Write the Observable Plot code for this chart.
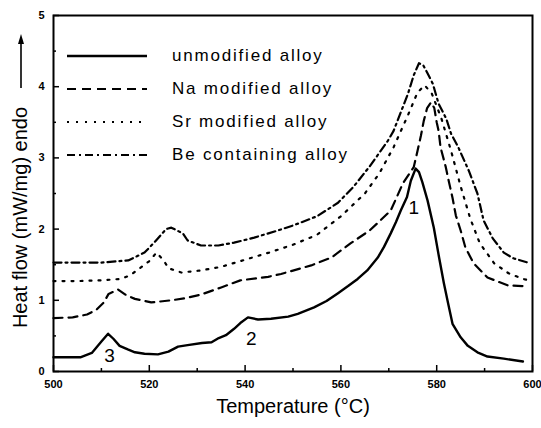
<!DOCTYPE html>
<html><head><meta charset="utf-8">
<script src="https://cdn.jsdelivr.net/npm/d3@7"></script>
<script src="https://cdn.jsdelivr.net/npm/@observablehq/plot@0.6"></script>
<style>
body{margin:0;background:#fff;}
#wrap{position:relative;width:541px;height:428px;font-family:"Liberation Sans",Arial,sans-serif;color:#000;}
#wrap svg{display:block;}
.leg{position:absolute;left:67px;display:flex;align-items:center;font-size:17px;letter-spacing:1.8px;white-space:nowrap;}
</style></head><body><div id="wrap"></div>
<script>
// ---- data ----
const seriesNames = ["unmodified alloy", "Na modified alloy", "Sr modified alloy", "Be containing alloy"];

const unmodT = [500, 505.6, 508, 510, 511.4, 512.5, 513.8, 515.5, 517, 519, 521.8, 524, 526, 528, 531, 533, 534.5, 536, 537.7, 539, 540.6, 542.7, 545.4, 549, 551, 554.4, 557, 559.4, 561.5, 563.5, 565.5, 567.7, 569, 570.4, 571.5, 572.5, 573.8, 574.6, 575.6, 576.3, 577, 578.1, 579.4, 580.5, 581.5, 582.4, 583.3, 585, 586.5, 588.5, 590.6, 594, 598];
const unmodV = [0.2, 0.2, 0.26, 0.42, 0.53, 0.46, 0.36, 0.31, 0.27, 0.25, 0.24, 0.28, 0.35, 0.37, 0.4, 0.41, 0.47, 0.51, 0.6, 0.68, 0.76, 0.73, 0.74, 0.77, 0.81, 0.9, 0.99, 1.1, 1.2, 1.3, 1.42, 1.6, 1.75, 1.94, 2.1, 2.26, 2.45, 2.68, 2.85, 2.8, 2.66, 2.4, 2.02, 1.6, 1.24, 0.95, 0.67, 0.48, 0.36, 0.27, 0.21, 0.18, 0.14];

const naT = [500, 504, 507, 509, 510.5, 511.5, 513.5, 515, 517, 520.4, 524.6, 527.5, 530.8, 535, 539, 544.8, 547.5, 553.8, 558, 562, 566, 570.4, 573, 575.2, 576, 576.7, 577.3, 578, 578.8, 579.5, 580, 580.4, 580.8, 581.9, 582.5, 583.3, 584, 585, 586, 587.7, 590.6, 594.8, 598];
const naV = [0.75, 0.76, 0.8, 0.87, 0.97, 1.09, 1.15, 1.08, 1.02, 0.97, 1.0, 1.03, 1.08, 1.18, 1.28, 1.33, 1.37, 1.49, 1.6, 1.8, 1.98, 2.26, 2.65, 2.87, 3.1, 3.31, 3.52, 3.7, 3.78, 3.7, 3.5, 3.38, 3.15, 2.87, 2.68, 2.44, 2.19, 1.98, 1.74, 1.52, 1.32, 1.21, 1.2];

const srT = [500, 505, 510, 514, 516, 518, 520, 521.5, 523, 524, 526.7, 530.8, 535, 540, 545, 550, 555, 560, 565, 568, 571, 574, 576, 577.5, 579, 581, 583, 585, 587, 589, 592, 595, 598, 600];
const srV = [1.27, 1.27, 1.28, 1.3, 1.35, 1.45, 1.55, 1.67, 1.56, 1.45, 1.39, 1.42, 1.47, 1.57, 1.67, 1.78, 1.92, 2.18, 2.5, 2.78, 3.15, 3.6, 3.92, 4.02, 3.9, 3.55, 3.1, 2.6, 2.15, 1.8, 1.52, 1.38, 1.3, 1.27];

const beT = [500, 505, 510, 515.6, 519, 521, 523.5, 524.6, 527, 528, 530.8, 534.4, 537.7, 541.9, 546.8, 550, 555, 559.4, 562.7, 566, 569.8, 571, 572.5, 574, 575.2, 576.3, 577.2, 578, 579.2, 580.4, 582, 583, 584.5, 586.7, 588.5, 589.8, 591.7, 594, 596, 599];
const beV = [1.53, 1.53, 1.53, 1.56, 1.67, 1.81, 2.0, 2.02, 1.94, 1.84, 1.77, 1.77, 1.81, 1.88, 1.98, 2.05, 2.18, 2.37, 2.6, 2.88, 3.24, 3.38, 3.64, 3.9, 4.16, 4.33, 4.3, 4.2, 4.04, 3.76, 3.55, 3.34, 3.15, 2.82, 2.5, 2.12, 1.87, 1.67, 1.59, 1.53];

const xMajor = [500, 520, 540, 560, 580, 600];
const xMinor = [510, 530, 550, 570, 590];
const yMajor = [0, 1, 2, 3, 4, 5];
const yMinor = [0.5, 1.5, 2.5, 3.5, 4.5];

const peakLabels = ["1", "2", "3"];
const peakT = [575.2, 541.3, 511.7];
const peakV = [2.3, 0.46, 0.22];

const xLabel = "Temperature (°C)";
const yLabel = "Heat flow (mW/mg) endo";

// ---- build ----
const mk = (T, V) => T.map((t, i) => ({T: t, v: V[i]}));
const unmod = mk(unmodT, unmodV), na = mk(naT, naV), sr = mk(srT, srV), be = mk(beT, beV);
const peaks = peakLabels.map((l, i) => ({l, T: peakT[i], v: peakV[i]}));

const styles = [
  {strokeWidth: 2.4},
  {strokeWidth: 2.2, strokeDasharray: "9,6"},
  {strokeWidth: 2.2, strokeDasharray: "2,7"},
  {strokeWidth: 2.2, strokeDasharray: "8,4,2,4"}
];

const chart = Plot.plot({
  width: 541, height: 428,
  marginLeft: 53, marginRight: 9, marginTop: 15, marginBottom: 57,
  style: {fontFamily: "'Liberation Sans', Arial, sans-serif", color: "#000", background: "#fff"},
  x: {domain: [500, 600]},
  y: {domain: [0, 5]},
  marks: [
    Plot.line(unmod, {x: "T", y: "v", stroke: "#000", ...styles[0]}),
    Plot.line(na, {x: "T", y: "v", stroke: "#000", ...styles[1]}),
    Plot.line(sr, {x: "T", y: "v", stroke: "#000", ...styles[2]}),
    Plot.line(be, {x: "T", y: "v", stroke: "#000", ...styles[3]}),
    Plot.frame({stroke: "#000", strokeWidth: 2}),
    Plot.axisX(xMajor, {tickSize: 6, dy: -6, fill: "none", label: null, strokeWidth: 1.5}),
    Plot.axisX(xMinor, {tickSize: 3, dy: -3, fill: "none", label: null, strokeWidth: 1.5}),
    Plot.axisX(xMajor, {tickSize: 0, tickPadding: 9, label: null, fontSize: 11, fontWeight: "bold", tickFormat: d => String(d)}),
    Plot.axisY(yMajor, {tickSize: 6, dx: 6, fill: "none", label: null, strokeWidth: 1.5}),
    Plot.axisY(yMinor, {tickSize: 3, dx: 3, fill: "none", label: null, strokeWidth: 1.5}),
    Plot.axisY(yMajor, {tickSize: 0, tickPadding: 9, label: null, fontSize: 11, fontWeight: "bold", tickFormat: d => String(d)}),
    Plot.text(peaks, {x: "T", y: "v", text: "l", fontSize: 19}),
    Plot.text([xLabel], {frameAnchor: "bottom", dy: 41, fontSize: 20, letterSpacing: 1.2}),
    Plot.text([yLabel], {frameAnchor: "left", textAnchor: "middle", dx: -33, dy: 24, rotate: -90, fontSize: 20})
  ]
});

const wrap = document.getElementById("wrap");
wrap.appendChild(chart);

// y-label arrow
const arr = d3.create("svg").attr("width", 20).attr("height", 70)
  .style("position", "absolute").style("left", "11px").style("top", "28px");
arr.append("line").attr("x1", 10).attr("x2", 10).attr("y1", 14).attr("y2", 60).attr("stroke", "#000").attr("stroke-width", 1.6);
arr.append("path").attr("d", "M10,6 L13,16 L7,16 Z").attr("fill", "#000");
wrap.appendChild(arr.node());

// legend
const rowY = [56, 89, 122, 155];
seriesNames.forEach((name, i) => {
  const row = d3.create("div").attr("class", "leg").style("top", (rowY[i] - 12) + "px").style("height", "24px");
  const sv = row.append("svg").attr("width", 105).attr("height", 24);
  const st = styles[i];
  sv.append("line").attr("x1", 0).attr("x2", 80).attr("y1", 12).attr("y2", 12)
    .attr("stroke", "#000").attr("stroke-width", st.strokeWidth)
    .attr("stroke-dasharray", st.strokeDasharray || null);
  row.append("span").text(name);
  wrap.appendChild(row.node());
});
</script>
</body></html>
